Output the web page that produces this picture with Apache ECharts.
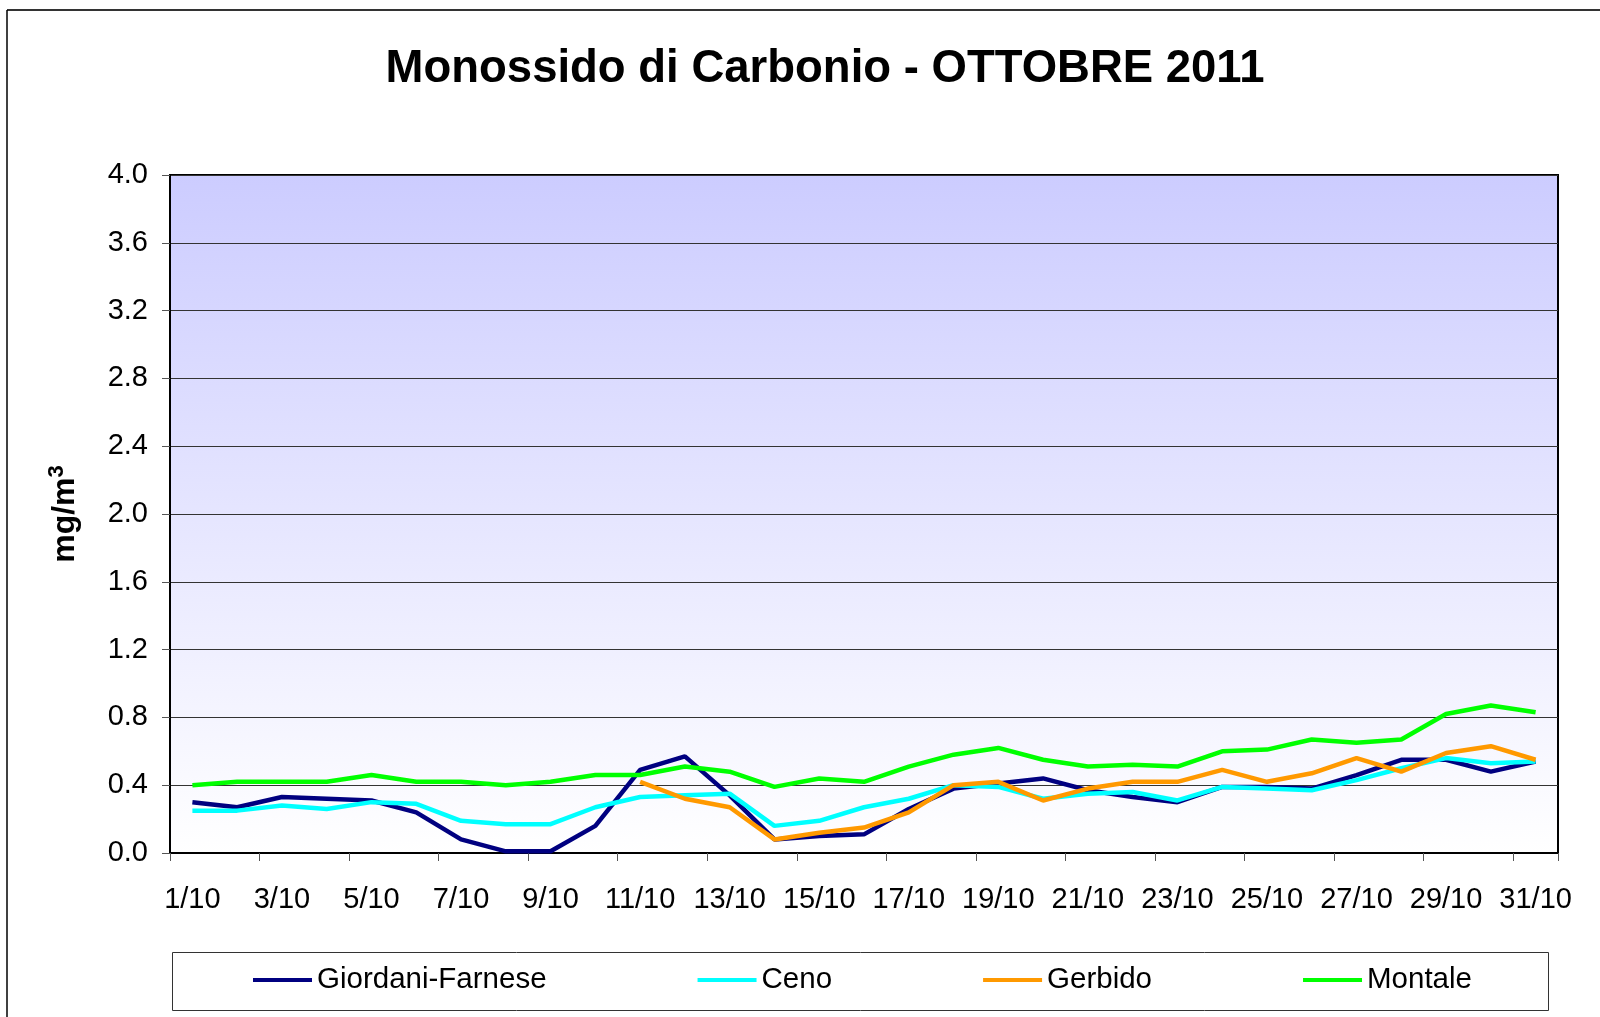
<!DOCTYPE html>
<html>
<head>
<meta charset="utf-8">
<title>Monossido di Carbonio - OTTOBRE 2011</title>
<script src="https://cdn.jsdelivr.net/npm/echarts@6/dist/echarts.min.js"></script>
<style>
  html, body { margin: 0; padding: 0; background: #fff; }
  #chart { width: 1600px; height: 1017px; }
</style>
</head>
<body>
<div id="chart"></div>
<script>
// giorni di ottobre
var days = [];
for (var d = 1; d <= 31; d++) { days.push(d + "/10"); }

// valori (mg/m3)
var giordani = [0.30, 0.27, 0.33, 0.32, 0.31, 0.24, 0.08, 0.01, 0.01, 0.16,
                0.49, 0.57, 0.34, 0.08, 0.10, 0.11, 0.26, 0.38, 0.41, 0.44,
                0.37, 0.33, 0.30, 0.39, 0.39, 0.38, 0.46, 0.55, 0.55, 0.48, 0.54];
var ceno = [0.25, 0.25, 0.28, 0.26, 0.30, 0.29, 0.19, 0.17, 0.17, 0.27,
            0.33, 0.34, 0.35, 0.16, 0.19, 0.27, 0.32, 0.40, 0.39, 0.32,
            0.35, 0.36, 0.31, 0.39, 0.38, 0.37, 0.43, 0.50, 0.56, 0.53, 0.54];
var gerbido = [null, null, null, null, null, null, null, null, null, null,
               0.42, 0.32, 0.27, 0.08, 0.12, 0.15, 0.24, 0.40, 0.42, 0.31,
               0.38, 0.42, 0.42, 0.49, 0.42, 0.47, 0.56, 0.48, 0.59, 0.63, 0.55];
var montale = [0.40, 0.42, 0.42, 0.42, 0.46, 0.42, 0.42, 0.40, 0.42, 0.46,
               0.46, 0.51, 0.48, 0.39, 0.44, 0.42, 0.51, 0.58, 0.62, 0.55,
               0.51, 0.52, 0.51, 0.60, 0.61, 0.67, 0.65, 0.67, 0.82, 0.87, 0.83];

var FONT = "Liberation Sans";

var chart = echarts.init(document.getElementById("chart"));

function serie(nome, valori, colore) {
    return {
        name: nome,
        type: "line",
        data: valori,
        symbol: "none",
        connectNulls: false,
        lineStyle: { color: colore, width: 4.5 },
        itemStyle: { color: colore },
        animation: false
    };
}

chart.setOption({
    animation: false,
    textStyle: { fontFamily: FONT },
    title: {
        text: "Monossido di Carbonio - OTTOBRE 2011",
        left: 820,
        textAlign: "center",
        top: 41,
        textStyle: { fontSize: 45.5, fontWeight: "bold", color: "#000", fontFamily: FONT }
    },
    graphic: [
        // cornice esterna
        { type: "line", shape: { x1: 7, y1: 10, x2: 1600, y2: 10 }, style: { stroke: "#333", lineWidth: 2 } },
        { type: "line", shape: { x1: 7, y1: 10, x2: 7, y2: 1017 }, style: { stroke: "#000", lineWidth: 1.5 } },
        // riquadro legenda
        { type: "rect", shape: { x: 172.5, y: 952.5, width: 1376, height: 58 },
          style: { fill: "#fff", stroke: "#333", lineWidth: 1 }, z: -1 }
    ],
    legend: {
        left: 253,
        top: 965,
        padding: 0,
        itemGap: 151,
        itemWidth: 59,
        itemHeight: 4,
        icon: "rect",
        textStyle: { fontSize: 29.5, color: "#000", fontFamily: FONT },
        data: ["Giordani-Farnese", "Ceno", "Gerbido", "Montale"]
    },
    grid: {
        left: 170,
        top: 175,
        right: 42,
        bottom: 164,
        show: true,
        borderColor: "#000",
        borderWidth: 2,
        backgroundColor: {
            type: "linear", x: 0, y: 0, x2: 0, y2: 1,
            colorStops: [{ offset: 0, color: "#CCCCFF" }, { offset: 1, color: "#FFFFFF" }]
        }
    },
    xAxis: {
        type: "category",
        data: days,
        boundaryGap: true,
        axisLine: { lineStyle: { color: "#000", width: 2 } },
        axisTick: { show: true, interval: 1, length: 8, inside: false, lineStyle: { color: "#555", width: 1 } },
        axisLabel: { interval: 1, margin: 32, fontSize: 29, color: "#000", fontFamily: FONT },
        splitLine: { show: false }
    },
    yAxis: {
        type: "value",
        min: 0,
        max: 4,
        interval: 0.4,
        name: "{a|mg/m}{b|3}",
        nameLocation: "middle",
        nameRotate: 90,
        nameGap: 86,
        nameTextStyle: {
            rich: {
                a: { fontSize: 32, fontWeight: "bold", color: "#000", fontFamily: FONT },
                b: { fontSize: 22, fontWeight: "bold", color: "#000", fontFamily: FONT, verticalAlign: "top", padding: [0, 0, 16, 0] }
            }
        },
        axisLine: { show: true, lineStyle: { color: "#000", width: 2 } },
        axisTick: { show: true, length: 8, lineStyle: { color: "#555", width: 1 } },
        axisLabel: {
            margin: 22, fontSize: 29, color: "#000", fontFamily: FONT,
            formatter: function (v) { return v.toFixed(1); }
        },
        splitLine: { show: true, lineStyle: { color: "#333", width: 1 } }
    },
    series: [
        serie("Giordani-Farnese", giordani, "#000080"),
        serie("Ceno", ceno, "#00FFFF"),
        serie("Gerbido", gerbido, "#FF9900"),
        serie("Montale", montale, "#00FF00")
    ]
});
</script>
</body>
</html>
